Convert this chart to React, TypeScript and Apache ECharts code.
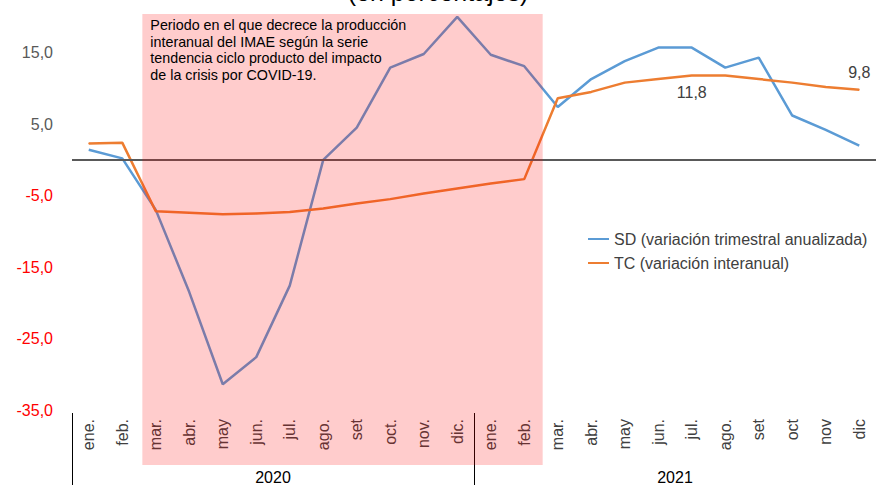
import React, { useEffect, useRef } from "react";
import * as echarts from "echarts";

const months2020 = ["ene.", "feb.", "mar.", "abr.", "may", "jun.", "jul.", "ago.", "set", "oct.", "nov.", "dic."];
const months2021 = ["ene.", "feb.", "mar.", "abr.", "may", "jun.", "jul.", "ago.", "set", "oct", "nov", "dic"];
const categories = [...months2020, ...months2021];
const years = ["2020", "2021"];

const sdName = "SD (variación trimestral anualizada)";
const tcName = "TC (variación interanual)";

const sdValues = [1.4, 0.2, -7.0, -18.5, -31.4, -27.6, -17.6, 0.0, 4.5, 12.9, 14.8, 20.0, 14.7, 13.1, 7.4, 11.3, 13.8, 15.7, 15.7, 12.9, 14.3, 6.2, 4.2, 2.0];
const tcValues = [2.3, 2.4, -7.2, -7.4, -7.6, -7.5, -7.3, -6.8, -6.1, -5.5, -4.7, -4.0, -3.3, -2.7, 8.6, 9.5, 10.8, 11.3, 11.8, 11.8, 11.3, 10.8, 10.2, 9.8];

const tcLabelBelow = 18; // jul. 2021
const tcLabelAbove = 23; // dic 2021

const yMin = -35;
const yMax = 20.4;
const yInterval = 10;

const shadeStartIndex = 2; // mar. 2020
const shadeEndIndex = 13; // feb. 2021

const titleText = "(en porcentajes)";
const noteText = [
  "Periodo en el que decrece la producción",
  "interanual del IMAE según la serie",
  "tendencia ciclo producto del impacto",
  "de la crisis por COVID-19.",
];

const FONT = "'Liberation Sans', Arial, sans-serif";
const BLUE = "#5B9BD5";
const ORANGE = "#ED7D31";

const fmt = (v: number) => v.toFixed(1).replace(".", ",");

export default function App() {
  const ref = useRef<HTMLDivElement>(null);

  useEffect(() => {
    if (!ref.current) return;
    const chart = echarts.init(ref.current, undefined, { renderer: "svg" });

    const tcData = tcValues.map((v, i) => {
      if (i === tcLabelBelow) {
        return { value: v, label: { show: true, position: "bottom", distance: 9 } };
      }
      if (i === tcLabelAbove) {
        return { value: v, label: { show: true, position: "top", distance: 9 } };
      }
      return v;
    });

    chart.setOption({
      animation: false,
      textStyle: { fontFamily: FONT },
      grid: { left: 72, right: -5, top: 14, bottom: 73 },
      legend: {
        orient: "vertical",
        left: 583,
        top: 226,
        icon: "rect",
        itemWidth: 21,
        itemHeight: 2,
        itemGap: 8,
        textStyle: { fontSize: 16, color: "#404040", fontFamily: FONT },
        data: [sdName, tcName],
      },
      xAxis: [
        {
          type: "category",
          data: categories,
          position: "bottom",
          boundaryGap: true,
          axisLine: { show: false },
          axisTick: { show: false },
          axisLabel: {
            rotate: 90,
            margin: 9,
            fontSize: 16,
            color: "#404040",
            fontFamily: FONT,
            interval: 0,
          },
        },
        {
          type: "category",
          data: years,
          position: "bottom",
          offset: 3,
          boundaryGap: true,
          axisLine: { show: false },
          axisTick: { show: true, length: 72, lineStyle: { color: "#000", width: 1 } },
          axisLabel: { margin: 56, fontSize: 16, color: "#000", fontFamily: FONT },
        },
      ],
      yAxis: {
        type: "value",
        min: yMin,
        max: yMax,
        interval: yInterval,
        splitLine: { show: false },
        axisLine: { show: false },
        axisTick: { show: false },
        axisLabel: {
          margin: 19,
          fontSize: 16,
          fontFamily: FONT,
          showMaxLabel: false,
          formatter: (v: number) => fmt(v),
          color: (v: any) => (Number(v) < 0 ? "#FF0000" : "#595959"),
        },
      },
      series: [
        {
          name: sdName,
          type: "line",
          data: sdValues,
          symbol: "circle",
          symbolSize: 0,
          showSymbol: false,
          lineStyle: { color: BLUE, width: 2.5 },
          itemStyle: { color: BLUE },
          z: 3,
        },
        {
          name: tcName,
          type: "line",
          data: tcData,
          symbol: "circle",
          symbolSize: 1,
          lineStyle: { color: ORANGE, width: 2.5 },
          itemStyle: { color: ORANGE },
          label: {
            show: false,
            fontSize: 16,
            color: "#404040",
            fontFamily: FONT,
            formatter: (p: any) => fmt(p.value),
          },
          markLine: {
            silent: true,
            symbol: "none",
            label: { show: false },
            lineStyle: { color: "#595959", width: 2, type: "solid" },
            data: [{ yAxis: 0 }],
          },
          z: 4,
        },
      ],
    });

    const c0 = chart.convertToPixel({ xAxisIndex: 0 }, 0) as number;
    const c1 = chart.convertToPixel({ xAxisIndex: 0 }, 1) as number;
    const band = c1 - c0;
    const cs = chart.convertToPixel({ xAxisIndex: 0 }, shadeStartIndex) as number;
    const ce = chart.convertToPixel({ xAxisIndex: 0 }, shadeEndIndex) as number;
    const left = cs - 0.4 * band;
    const right = ce + 0.55 * band;

    chart.setOption({
      graphic: [
        {
          type: "rect",
          z: 50,
          silent: true,
          shape: { x: left, y: 14, width: right - left, height: 451 },
          style: { fill: "rgba(255,0,0,0.2)" },
        },
        {
          type: "text",
          z: 51,
          silent: true,
          x: left + 8,
          y: 17,
          style: {
            text: noteText.join("\n"),
            font: `14.3px ${FONT}`,
            fill: "#000",
            lineHeight: 16.5,
          },
        },
        {
          type: "text",
          z: 51,
          silent: true,
          x: 438,
          y: -8,
          style: {
            text: titleText,
            font: `25px ${FONT}`,
            fill: "#000",
            align: "center",
            verticalAlign: "middle",
          },
        },
      ],
    });

    return () => chart.dispose();
  }, []);

  return <div ref={ref} style={{ width: 876, height: 485, position: "absolute", left: 0, top: 0 }} />;
}
